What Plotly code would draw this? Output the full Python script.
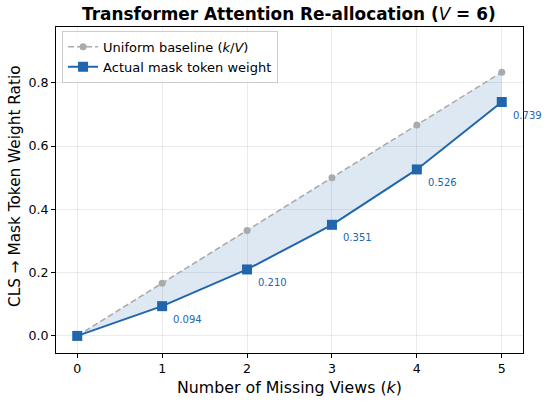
import plotly.graph_objects as go

k = [0, 1, 2, 3, 4, 5]
uniform = [0.0, 1/6, 2/6, 3/6, 4/6, 5/6]
actual = [0.0, 0.094, 0.210, 0.351, 0.526, 0.739]
actual_err = [0.0, 0.004, 0.005, 0.006, 0.007, 0.008]
labels = ["0.094", "0.210", "0.351", "0.526", "0.739"]

blue = "#2166ac"
gray = "#aaaaaa"
font = "DejaVu Sans"

fig = go.Figure()
fig.add_trace(go.Scatter(x=k, y=uniform, mode="lines", line=dict(width=0),
                         showlegend=False, hoverinfo="skip"))
fig.add_trace(go.Scatter(x=k, y=actual, mode="lines", line=dict(width=0),
                         fill="tonexty", fillcolor="rgba(33,102,172,0.15)",
                         showlegend=False, hoverinfo="skip"))
fig.add_trace(go.Scatter(x=k, y=uniform, mode="lines+markers", name="Uniform baseline (<i>k</i>/<i>V</i>)",
                         line=dict(color=gray, width=1.5, dash="6px,3px"),
                         marker=dict(color=gray, size=7, symbol="circle")))
fig.add_trace(go.Scatter(x=k, y=actual, mode="lines+markers", name="Actual mask token weight",
                         line=dict(color=blue, width=2),
                         marker=dict(color=blue, size=10, symbol="square"),
                         error_y=dict(type="data", array=actual_err, color=blue, thickness=1.5, width=3)))

for xi, yi, t in zip(k[1:], actual[1:], labels):
    fig.add_annotation(x=xi, y=yi, text=t, showarrow=False, xanchor="left", yanchor="middle",
                       xshift=9, yshift=-13, font=dict(family=font, size=10, color=blue))

# axis titles as annotations for precise placement
fig.add_annotation(x=0.5, y=0, xref="paper", yref="paper", text="Number of Missing Views (<i>k</i>)",
                   showarrow=False, xanchor="center", yanchor="middle", yshift=-34,
                   font=dict(family=font, size=15.8, color="black"))
fig.add_annotation(x=0, y=0.5, xref="paper", yref="paper", text="CLS → Mask Token Weight Ratio",
                   showarrow=False, xanchor="center", yanchor="middle", xshift=-41, yshift=4,
                   textangle=-90, font=dict(family=font, size=15.3, color="black"))

axis_common = dict(showline=True, linecolor="black", linewidth=1, mirror=True,
                   ticks="outside", ticklen=4, tickcolor="black", automargin=False,
                   showgrid=True, gridcolor="rgba(0,0,0,0.08)", gridwidth=1,
                   zeroline=False, tickfont=dict(family=font, size=12.6, color="black"))

fig.update_layout(
    width=547, height=401,
    margin=dict(l=56, r=24, t=27, b=48),
    paper_bgcolor="white", plot_bgcolor="white",
    title=dict(text="<b>Transformer Attention Re-allocation (</b><i>V</i><b> = 6)</b>",
               x=0.528, xanchor="center", yref="container", y=0.966, yanchor="middle",
               font=dict(family=font, size=16.9, color="black")),
    xaxis=dict(range=[-0.25, 5.25], tickvals=k, **axis_common),
    yaxis=dict(range=[-0.054, 0.976], tickvals=[0, 0.2, 0.4, 0.6, 0.8], tickformat=".1f", **axis_common),
    legend=dict(x=0.013, y=0.988, xanchor="left", yanchor="top", traceorder="normal",
                bgcolor="rgba(255,255,255,0.8)", bordercolor="#cccccc", borderwidth=1,
                font=dict(family=font, size=13, color="black"), tracegroupgap=0, itemwidth=30),
)

fig.write_html("out.html", post_script="document.body.style.margin='0';",
               config={"displayModeBar": False})
